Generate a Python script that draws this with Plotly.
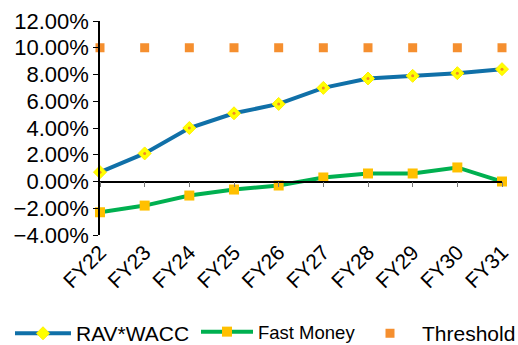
import plotly.graph_objects as go

years = ["FY22", "FY23", "FY24", "FY25", "FY26", "FY27", "FY28", "FY29", "FY30", "FY31"]
rav_wacc = [0.7, 2.1, 4.0, 5.1, 5.8, 7.0, 7.7, 7.9, 8.1, 8.4]
fast_money = [-2.3, -1.8, -1.05, -0.6, -0.3, 0.3, 0.6, 0.6, 1.05, 0.0]
threshold = [10, 10, 10, 10, 10, 10, 10, 10, 10, 10]

FONT = "Liberation Sans, Arial, sans-serif"
PLOT_L, PLOT_W = 100, 402


def px_to_paper(px):
    return (px - PLOT_L) / PLOT_W


fig = go.Figure()
fig.add_trace(go.Scatter(
    x=years, y=rav_wacc, name="RAV*WACC", mode="lines+markers",
    line=dict(color="#1070A8", width=4),
    marker=dict(symbol="diamond", size=10, color="#FFFF00",
                line=dict(color="#FFEE00", width=1)),
    cliponaxis=False, legend="legend",
))
# small orange centre dot on each RAV*WACC diamond
fig.add_trace(go.Scatter(
    x=years, y=rav_wacc, mode="markers", showlegend=False, hoverinfo="skip",
    marker=dict(symbol="circle", size=3, color="#F08A24"),
    cliponaxis=False,
))
fig.add_trace(go.Scatter(
    x=years, y=fast_money, name="Fast Money",
    mode="lines+markers",
    line=dict(color="#00B050", width=4),
    marker=dict(symbol="square", size=10, color="#FFC000"),
    cliponaxis=False, legend="legend2",
))
fig.add_trace(go.Scatter(
    x=years, y=threshold, name="Threshold", mode="markers",
    marker=dict(symbol="square", size=9, color="#F58F2F"),
    cliponaxis=False, legend="legend3",
))
# axis line with tick marks sitting on the zero line
fig.add_trace(go.Scatter(
    x=years, y=[None] * len(years), xaxis="x2", showlegend=False,
    hoverinfo="skip",
))

legend_common = dict(orientation="h", xanchor="left", y=-0.365, yanchor="top",
                     tracegroupgap=0, bgcolor="rgba(0,0,0,0)")

fig.update_layout(
    width=518, height=345,
    margin=dict(l=100, r=16, t=21, b=110, autoexpand=False),
    paper_bgcolor="white", plot_bgcolor="white",
    font=dict(family=FONT, size=20, color="black"),
    showlegend=True,
    legend=dict(legend_common, x=px_to_paper(10), itemwidth=56,
                font=dict(size=21)),
    legend2=dict(legend_common, x=px_to_paper(196), itemwidth=52,
                 font=dict(size=18.5)),
    legend3=dict(legend_common, x=px_to_paper(358), itemwidth=54,
                 font=dict(size=21)),
    xaxis=dict(
        type="category", range=[0, 9], showline=False, showgrid=False,
        zeroline=False, ticks="", tickangle=-45,
        tickfont=dict(size=21), automargin=False,
    ),
    xaxis2=dict(
        type="category", range=[0, 9], overlaying="x", anchor="free",
        position=0.25, showline=True, linecolor="black", linewidth=1.5,
        ticks="outside", ticklen=5, tickcolor="#777", showticklabels=False,
        showgrid=False, zeroline=False, matches="x",
    ),
    yaxis=dict(
        range=[-4, 12], dtick=2, tickformat=".2f", ticksuffix="%",
        showline=True, linecolor="black", linewidth=1.5,
        ticks="outside", ticklen=5, tickcolor="black",
        showgrid=False, zeroline=False, tickfont=dict(size=22),
        automargin=False,
    ),
)

fig.write_html("out.html")
